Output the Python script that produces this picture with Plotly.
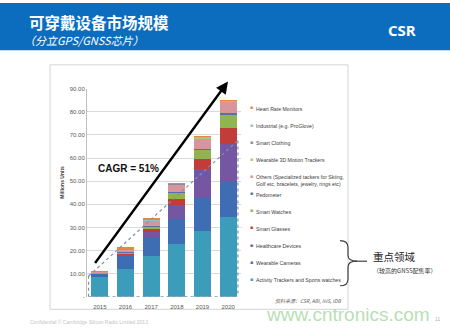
import plotly.graph_objects as go

W, H = 450, 330

years = ["2015", "2016", "2017", "2018", "2019", "2020"]

# Millions of units per segment, bottom of the stack first
activity_trackers = [8.5, 11.9, 17.8, 22.8, 28.5, 34.4]
wearable_cameras = [1.6, 6.0, 7.7, 10.8, 14.3, 15.3]
healthcare_devices = [0.2, 0.6, 2.4, 6.0, 12.4, 16.5]
smart_glasses = [0.0, 0.5, 1.3, 2.6, 4.4, 6.6]
smart_watches = [0.2, 0.5, 1.2, 3.0, 4.2, 6.3]
pedometer = [0.2, 0.3, 0.2, 0.2, 0.2, 0.2]
others = [0.3, 0.8, 2.5, 3.3, 4.8, 5.1]
motion_trackers_3d = [0.0, 0.1, 0.1, 0.2, 0.3, 0.3]
smart_clothing = [0.0, 0.1, 0.1, 0.1, 0.1, 0.1]
industrial = [0.0, 0.0, 0.1, 0.1, 0.1, 0.1]
heart_rate_monitors = [0.2, 0.6, 0.4, 0.2, 0.1, 0.1]

y_tick_vals = [0, 10, 20, 30, 40, 50, 60, 70, 80, 90]
y_tick_text = ["-", "10.00", "20.00", "30.00", "40.00", "50.00", "60.00", "70.00", "80.00", "90.00"]

series = [
    ("Activity Trackers and Sports watches", activity_trackers, "#3C9DBB"),
    ("Wearable Cameras", wearable_cameras, "#3E6DB3"),
    ("Healthcare Devices", healthcare_devices, "#7456A2"),
    ("Smart Glasses", smart_glasses, "#C23D39"),
    ("Smart Watches", smart_watches, "#8DB64F"),
    ("Pedometer", pedometer, "#5B6FA6"),
    ("Others (Specialized tackers for Skiing,<br>Golf etc, bracelets, jewelry, rings etc)", others, "#D8959A"),
    ("Wearable 3D Motion Trackers", motion_trackers_3d, "#A9C97B"),
    ("Smart Clothing", smart_clothing, "#8A8AAE"),
    ("Industrial (e.g. ProGlove)", industrial, "#8CC3C6"),
    ("Heart Rate Monitors", heart_rate_monitors, "#E5883A"),
]

LAT = "Liberation Sans, Arial, sans-serif"
CJK = "Noto Sans CJK SC, sans-serif"


def px(x):
    return x / W


def py(y):
    return 1 - y / H


def label(text, x, y, size, color, family=LAT, xanchor="center", yanchor="middle", **kw):
    return dict(text=text, x=px(x), y=py(y), xref="paper", yref="paper", xanchor=xanchor,
                yanchor=yanchor, showarrow=False, font=dict(family=family, size=size, color=color), **kw)


fig = go.Figure()
for name, vals, color in series:
    fig.add_trace(go.Bar(x=years, y=vals, name=name, marker=dict(color=color, line=dict(width=0)),
                         showlegend=False))

shapes = []
annotations = []

# Header band
shapes.append(dict(type="rect", xref="paper", yref="paper", x0=0, x1=1, y0=py(48), y1=1,
                   fillcolor="#0C6DBF", line=dict(width=0), layer="below"))
annotations += [
    label("<b>可穿戴设备市场规模</b>", 27, 19.5, 15.5, "white", CJK, xanchor="left"),
    label("<i>（分立GPS/GNSS芯片）</i>", 22, 37.5, 11, "white", CJK, xanchor="left"),
    label("<b>CSR</b>", 402, 28, 15, "white", "Open Sans, sans-serif"),
]

# Chart panel frame
shapes.append(dict(type="rect", xref="paper", yref="paper", x0=px(50), x1=px(348), y0=py(312), y1=py(63),
                   fillcolor="rgba(0,0,0,0)", line=dict(color="#D4D4D4", width=1), layer="below"))

# Dotted outline around the lower region of the bars
dot = dict(color="#7F8FA9", width=1.2, dash="dot")
x_left, x_right, y_low, y_high = -0.44, 5.38, 9.0, 67.6
for (x0, y0, x1, y1) in [(x_left, 0, x_left, y_low), (x_left, y_low, x_right, y_high),
                         (x_right, y_high, x_right, 0), (x_left, 0.15, x_right, 0.15)]:
    shapes.append(dict(type="line", xref="x", yref="y", x0=x0, y0=y0, x1=x1, y1=y1, line=dot))

# Growth arrow and CAGR label
annotations.append(dict(x=px(228), y=py(80), xref="paper", yref="paper", ax=-134, ay=183,
                        axref="pixel", ayref="pixel", text="", showarrow=True, arrowhead=2,
                        arrowsize=1, arrowwidth=2.4, arrowcolor="black", standoff=0))
annotations.append(label("<b>CAGR = 51%</b>", 128, 169, 10, "#111111"))

# Axis title
annotations.append(label("<b>Millions Units</b>", 62, 183, 5, "#404040", textangle=-90))

# Legend, listed top-down in reverse stacking order
legend_top, legend_step = 106.3, 17.47
for i, (name, vals, color) in enumerate(reversed(series)):
    yy = legend_top + i * legend_step
    annotations.append(label("■", 251, yy, 5, color))
    annotations.append(label(name, 254, yy - 3.6, 5.2, "#404040", xanchor="left", yanchor="top",
                             align="left"))

# Brace marking the key segments
brace = ("M {a},{b} Q {c},{b} {c},{d} L {c},{e} Q {c},{m} {t},{m} "
         "Q {c},{m} {c},{f} L {c},{g} Q {c},{h} {a},{h}").format(
    a=px(340), c=px(348), t=px(357), b=py(242), d=py(249), e=py(257), m=py(263),
    f=py(269), g=py(281), h=py(288))
shapes.append(dict(type="path", xref="paper", yref="paper", path=brace,
                   line=dict(color="#404040", width=1.2)))
shapes.append(dict(type="line", xref="paper", yref="paper", x0=px(355), x1=px(367), y0=py(263), y1=py(263),
                   line=dict(color="#404040", width=1.2)))
annotations += [
    label("重点领域", 394, 258.5, 10.5, "#222222", CJK),
    label("（较高的GNSS配售率）", 405, 272.5, 6, "#333333", CJK),
    label("<i>资料来源：CSR, ABI, IHS, IDB</i>", 308, 302.5, 5, "#606060", CJK),
    label("www.cntronics.com", 348, 317, 19, "rgba(120,195,110,0.55)"),
    label("Confidential © Cambridge Silicon Radio Limited 2013", 28, 325, 5, "#C4C4C4", xanchor="left"),
    label("11", 437, 322, 5, "#B0B0B0"),
]

fig.update_layout(
    width=W, height=H, margin=dict(l=0, r=0, t=0, b=0),
    paper_bgcolor="white", plot_bgcolor="white",
    barmode="stack", bargap=0.34,
    shapes=shapes, annotations=annotations,
    xaxis=dict(domain=[px(87), px(241)], range=[-0.5, 5.5], type="category",
               showgrid=False, showline=False, ticks="", ticklabelstandoff=5,
               tickfont=dict(family=LAT, size=6, color="#595959")),
    yaxis=dict(domain=[py(299.3), py(87.3)], range=[0, 90], tickvals=y_tick_vals, ticktext=y_tick_text,
               showgrid=True, gridcolor="#D9D9D9", gridwidth=1, zeroline=False,
               showline=True, linecolor="#BFBFBF", linewidth=1, ticks="",
               tickfont=dict(family=LAT, size=6, color="#595959")),
)

fig.write_html("out.html")
